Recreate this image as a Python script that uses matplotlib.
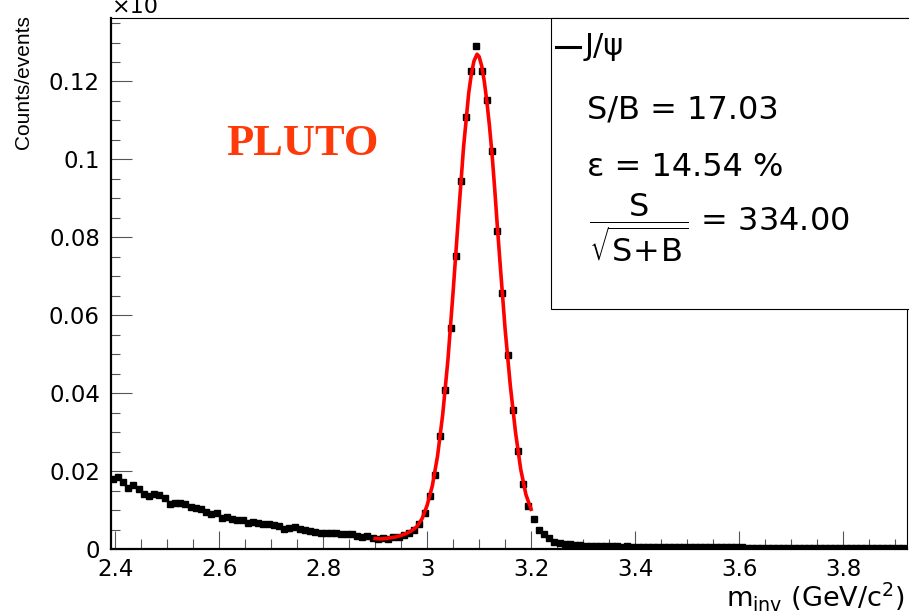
import numpy as np
import matplotlib
matplotlib.use("Agg")
import matplotlib.pyplot as plt
from matplotlib.patches import Rectangle
from matplotlib.ticker import MultipleLocator, FormatStrFormatter

plt.rcParams['font.family'] = ['DejaVu Sans']
plt.rcParams['mathtext.fontset'] = 'dejavusans'

# histogram: 0.01 GeV bins starting at 2.39
bin_lo = 2.39
bin_w = 0.01
counts = [
    0.0179, 0.0184, 0.0171, 0.0156, 0.0164, 0.0154, 0.0141, 0.0136, 0.0140, 0.0138,
    0.0130, 0.0115, 0.0119, 0.0119, 0.0115, 0.0107, 0.0106, 0.0103, 0.0094, 0.0089,
    0.0092, 0.0079, 0.0081, 0.0077, 0.0074, 0.0074, 0.0068, 0.0070, 0.0068, 0.0063,
    0.0063, 0.0062, 0.0059, 0.0051, 0.0055, 0.0056, 0.0051, 0.0049, 0.0046, 0.0044,
    0.0042, 0.0040, 0.0040, 0.0042, 0.0038, 0.0038, 0.0038, 0.0034, 0.0032, 0.0033,
    0.0029, 0.0027, 0.0028, 0.0027, 0.0031, 0.0032, 0.0036, 0.0042, 0.0050, 0.0064,
    0.0092, 0.0136, 0.0189, 0.0290, 0.0408, 0.0567, 0.0752, 0.0944, 0.1108, 0.1228,
    0.1290, 0.1228, 0.1153, 0.1021, 0.0815, 0.0657, 0.0497, 0.0356, 0.0252, 0.0168,
    0.0110, 0.0077, 0.0049, 0.0038, 0.0028, 0.0019,
    0.0016, 0.0014, 0.0012, 0.0011, 0.0010, 0.0009, 0.0009, 0.0008, 0.0008, 0.0007,
    0.0007, 0.0007, 0.0006, 0.0007, 0.0006, 0.0006, 0.0006, 0.0006, 0.0005, 0.0006,
    0.0006, 0.0005, 0.0006, 0.0005, 0.0005, 0.0006, 0.0005, 0.0005, 0.0005, 0.0005,
    0.0005, 0.0005, 0.0004, 0.0005, 0.0005, 0.0004, 0.0003, 0.0003, 0.0003, 0.0003,
    0.0003, 0.0003, 0.0003, 0.0003, 0.0003, 0.0003, 0.0003, 0.0003, 0.0003, 0.0003,
    0.0003, 0.0003, 0.0003, 0.0003, 0.0003, 0.0003, 0.0003, 0.0003, 0.0003, 0.0003,
    0.0003, 0.0003, 0.0003, 0.0003, 0.0003, 0.0003, 0.0003,
]

# fitted curve
fit_x = [2.900, 2.910, 2.920, 2.930, 2.940, 2.950, 2.960, 2.970, 2.980, 2.990,
         3.000, 3.010, 3.020, 3.030, 3.040, 3.050, 3.060, 3.070, 3.080, 3.085,
         3.090, 3.096, 3.100, 3.105, 3.110, 3.115, 3.120, 3.125, 3.130, 3.135,
         3.140, 3.150, 3.160, 3.170, 3.180, 3.190, 3.200]
fit_y = [0.0027, 0.0026, 0.0027, 0.0029, 0.0031, 0.0035, 0.0040, 0.0047, 0.0057, 0.0077,
         0.0112, 0.0162, 0.0238, 0.0345, 0.0485, 0.0660, 0.0848, 0.1030, 0.1170, 0.1218,
         0.1252, 0.1270, 0.1264, 0.1240, 0.1200, 0.1148, 0.1085, 0.1012, 0.0925, 0.0830,
         0.0740, 0.0565, 0.0420, 0.0300, 0.0205, 0.0140, 0.0102]

legend_lines = ['J/\u03c8', 'S/B = 17.03', '\u03b5 = 14.54 %']
signif_text = r'$\dfrac{\mathsf{S}}{\sqrt{\mathsf{S\!+\!B}}}$ = 334.00'

centers = bin_lo + bin_w * (np.arange(len(counts)) + 0.5)

fig = plt.figure(figsize=(9.09, 6.12), dpi=100)
ax = fig.add_axes([0.1221, 0.1029, 0.8757, 0.8677])

ax.errorbar(centers, counts, xerr=bin_w / 2, fmt='s', color='black', ms=4.2,
            elinewidth=1.6, capsize=0, zorder=2)
ax.plot(fit_x, fit_y, color='red', lw=2.6, zorder=3)

ax.set_xlim(2.392, 3.923)
ax.set_ylim(0, 0.1363)

ax.xaxis.set_major_locator(MultipleLocator(0.2))
ax.xaxis.set_minor_locator(MultipleLocator(0.05))
ax.yaxis.set_major_locator(MultipleLocator(0.02))
ax.yaxis.set_minor_locator(MultipleLocator(0.005))
ax.xaxis.set_major_formatter(FormatStrFormatter('%g'))
ax.yaxis.set_major_formatter(FormatStrFormatter('%g'))

ax.tick_params(axis='x', which='major', direction='in', length=13, width=0.8,
               color='#555555', labelsize=16.5, pad=6.5)
ax.tick_params(axis='x', which='minor', direction='in', length=7, width=0.8,
               color='#555555')
ax.tick_params(axis='y', which='major', direction='in', length=15, width=0.8,
               color='#555555', labelsize=16.5, pad=8)
ax.tick_params(axis='y', which='minor', direction='in', length=6.5, width=0.8,
               color='#555555')

ax.spines['left'].set_linewidth(1.6)
ax.spines['bottom'].set_linewidth(1.6)
ax.spines['top'].set_linewidth(0.8)
ax.spines['right'].set_linewidth(0.8)

# stat box
ax.add_patch(Rectangle((0.5528, 0.452), 0.47, 0.548, transform=ax.transAxes,
                       facecolor='white', edgecolor='black', lw=0.8,
                       clip_on=False, zorder=4))
ax.plot([0.559, 0.589], [0.9454, 0.9454], transform=ax.transAxes,
        color='black', lw=2.2, zorder=5, clip_on=False)
ax.text(0.595, 0.9454, legend_lines[0], transform=ax.transAxes, fontsize=22,
        va='center', ha='left', zorder=5)
ax.text(0.598, 0.8267, legend_lines[1], transform=ax.transAxes, fontsize=23,
        va='center', ha='left', zorder=5)
ax.text(0.598, 0.7194, legend_lines[2], transform=ax.transAxes, fontsize=23,
        va='center', ha='left', zorder=5)
ax.text(0.600, 0.603, signif_text, transform=ax.transAxes, fontsize=23,
        va='center', ha='left', zorder=5)

ax.text(0.1445, 0.7627, 'PLUTO', transform=ax.transAxes, fontsize=32,
        family='Liberation Serif', weight='bold', color='#ff3a0a',
        va='center', ha='left')

fig.text(0.995, 0.009, r'm$_{\mathsf{inv}}$ (GeV/c$^{2}$)', fontsize=19.5,
         ha='right', va='baseline')
fig.text(0.026, 1 - 15 / 612, 'Counts/events', rotation=90, fontsize=15,
         family='Liberation Sans', ha='center', va='top')
fig.text(112 / 909, 1 - 13 / 612, '\u00d710', fontsize=16,
         ha='left', va='baseline')

fig.savefig('out.png', dpi=100)
